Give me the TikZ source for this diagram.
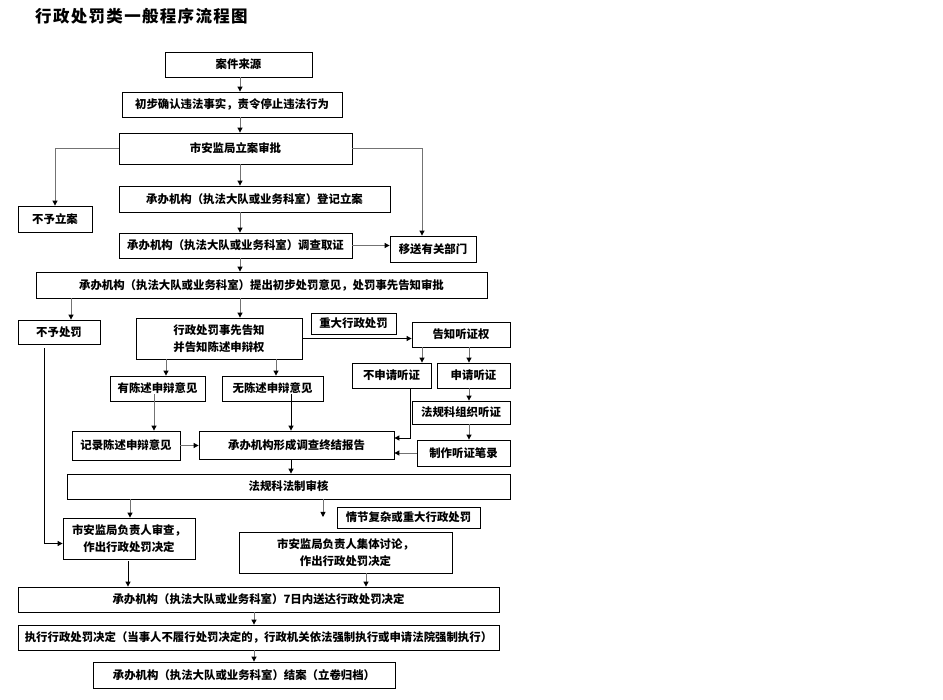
\documentclass[tikz,border=0pt]{standalone}
\usepackage{fontspec}
\setmainfont{Noto Sans CJK SC}
\newfontfamily\titlefont[LetterSpace=8]{Noto Sans CJK SC}
\usetikzlibrary{arrows.meta,calc}
\tikzset{
  box/.style={draw, line width=0.8pt, inner sep=0pt, align=center,
    font=\fontsize{11.4}{17}\selectfont\bfseries},
  conn/.style={draw=black!55, line width=0.9pt,
    -{Triangle[length=5pt,width=5pt,color=black]}},
}
\newcommand\bx[6]{\node[box,minimum width=#4,minimum height=#5] (#1) at (#2,#3) {#6};}
\begin{document}
\begin{tikzpicture}[x=1pt,y=-1pt]
\path[use as bounding box] (0,0) rectangle (943,700);
\node[anchor=west,inner sep=0pt,font=\fontsize{16.5}{18}\selectfont\titlefont\bfseries] (title) at (35,16.5) {行政处罚类一般程序流程图};
% columns
\coordinate (x240) at (240,0);
\coordinate (x422) at (422,0);
\coordinate (x469) at (469,0);
\coordinate (x71) at (71,0);
\coordinate (x44) at (44,0);
\coordinate (x166) at (166,0);
\coordinate (x276) at (276,0);
\coordinate (x154) at (154,0);
\coordinate (x291) at (291,0);
\coordinate (x410) at (410,0);
\coordinate (x130) at (130,0);
\coordinate (x128) at (128,0);
\coordinate (x366) at (366,0);
\coordinate (x254) at (254,0);
\coordinate (free) at (323,517);
% boxes
\bx{src}{238.5}{64.5}{147}{25}{案件来源}
\bx{confirm}{232}{104.5}{220}{25}{初步确认违法事实，责令停止违法行为}
\bx{approve}{235.5}{148.5}{233}{31}{市安监局立案审批}
\bx{noreg}{55}{219}{74}{26}{不予立案}
\bx{reg}{254.5}{199}{271}{26}{承办机构（执法大队或业务科室）登记立案}
\bx{invest}{235.5}{245.5}{233}{25}{承办机构（执法大队或业务科室）调查取证}
\bx{transfer}{433}{249}{86}{26}{移送有关部门}
\bx{propose}{261.5}{285}{451}{26}{承办机构（执法大队或业务科室）提出初步处罚意见，处罚事先告知审批}
\bx{nopen}{59}{332}{82}{24}{不予处罚}
\bx{notice}{219}{338.5}{166}{41}{行政处罚事先告知\\并告知陈述申辩权}
\bx{major}{353.5}{323.5}{85}{21}{重大行政处罚}
\bx{hearright}{461}{334.5}{98}{25}{告知听证权}
\bx{nohear}{391.5}{375.5}{79}{25}{不申请听证}
\bx{hear}{473.5}{375.5}{73}{25}{申请听证}
\bx{yes}{157.5}{388.5}{95}{25}{有陈述申辩意见}
\bx{no}{272.5}{388.5}{101}{25}{无陈述申辩意见}
\bx{orghear}{461}{412.5}{98}{23}{法规科组织听证}
\bx{record}{126}{445.5}{108}{29}{记录陈述申辩意见}
\bx{report}{296.5}{445}{195}{28}{承办机构形成调查终结报告}
\bx{transcript}{463.5}{453}{93}{26}{制作听证笔录}
\bx{review}{288.5}{486.5}{443}{25}{法规科法制审核}
\bx{headrev}{129}{538.5}{132}{41}{市安监局负责人审查，\\作出行政处罚决定}
\bx{complex}{408.5}{517.5}{143}{21}{情节复杂或重大行政处罚}
\bx{collective}{345.5}{552.5}{213}{41}{市安监局负责人集体讨论，\\作出行政处罚决定}
\bx{deliver}{258.5}{599.5}{481}{25}{承办机构（执法大队或业务科室）7日内送达行政处罚决定}
\bx{execute}{258.5}{637.5}{481}{25}{执行行政处罚决定（当事人不履行处罚决定的，行政机关依法强制执行或申请法院强制执行）}
\bx{close}{244}{675}{302}{26}{承办机构（执法大队或业务科室）结案（立卷归档）}
% connectors
\draw[conn] (src.south -| x240) -- (confirm.north -| x240);
\draw[conn] (confirm.south -| x240) -- (approve.north -| x240);
\draw[conn] (approve.south -| x240) -- (reg.north -| x240);
\draw[conn] (reg.south -| x240) -- (invest.north -| x240);
\draw[conn] (invest.south -| x240) -- (propose.north -| x240);
\draw[conn] (approve.west) -| (noreg.north);
\draw[conn] (approve.east) -| (transfer.north -| x422);
\draw[conn] (invest.east) -- (invest.east -| transfer.west);
\draw[conn] (propose.south -| x71) -- (nopen.north -| x71);
\draw[conn] (propose.south -| x240) -- (notice.north -| x240);
\draw[conn,draw=black] ([yshift=-4pt]nopen.south -| x44) |- ([yshift=-5pt]headrev.west);
\draw[conn,draw=black] (notice.east) -- (notice.east -| hearright.west);
\draw[conn] (notice.south -| x166) -- (yes.north -| x166);
\draw[conn] (notice.south -| x276) -- (no.north -| x276);
\draw[conn] (hearright.south -| x422) -- (nohear.north -| x422);
\draw[conn] (hearright.south -| x469) -- (hear.north -| x469);
\draw[conn] (hear.south -| x469) -- (orghear.north -| x469);
\draw[conn] (orghear.south -| x469) -- (transcript.north -| x469);
\draw[conn] ([yshift=7pt]yes.south -| x154) -- (record.north -| x154);
\draw[conn,draw=black] ([yshift=7pt]no.south -| x291) -- (report.north -| x291);
\draw[conn] (record.east) -- (record.east -| report.west);
\draw[conn,draw=black] (nohear.south -| x410) |- ([yshift=7pt]report.east);
\draw[conn] (transcript.west) -- (transcript.west -| report.east);
\draw[conn,draw=black] (report.south -| x291) -- (review.north -| x291);
\draw[conn] (review.south -| x130) -- (headrev.north -| x130);
\draw[conn] (review.south -| free) -- (free);
\draw[conn,draw=black] ([yshift=-2pt]headrev.south -| x128) -- (deliver.north -| x128);
\draw[conn] (collective.south -| x366) -- (deliver.north -| x366);
\draw[conn] (deliver.south -| x254) -- (execute.north -| x254);
\draw[conn] (execute.south -| x254) -- (close.north -| x254);
\end{tikzpicture}
\end{document}
